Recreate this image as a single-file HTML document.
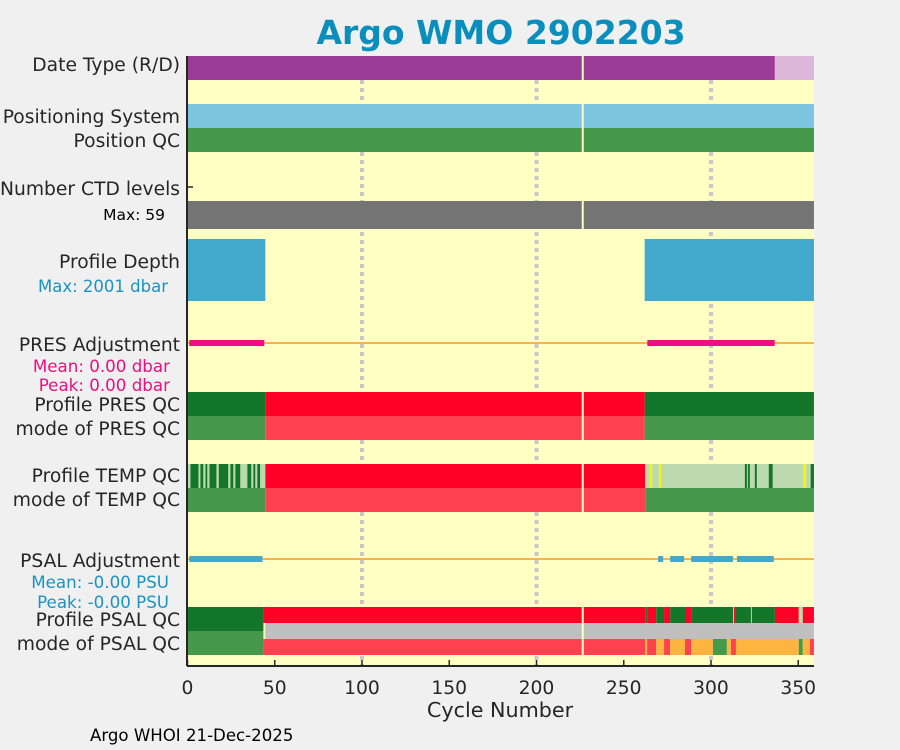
<!DOCTYPE html>
<html><head><meta charset="utf-8"><style>
body{margin:0;background:#f0f0f0;}
svg{display:block;font-family:"DejaVu Sans","Liberation Sans",sans-serif;}
</style></head><body>
<svg id="chart" width="900" height="750" viewBox="0 0 900 750">
<rect x="0" y="0" width="900" height="750" fill="#f0f0f0"/>
<text x="501" y="44" text-anchor="middle" font-size="33" font-weight="bold" fill="#0a8fbd">Argo WMO 2902203</text>
<rect x="187" y="56" width="627" height="610" fill="#ffffc4"/>
<g id="grid"></g>
<g id="marks"></g>
<g id="labels" font-size="18.7" fill="#262626" text-anchor="end">
<text x="180" y="71">Date Type (R/D)</text>
<text x="180" y="123">Positioning System</text>
<text x="180" y="147">Position QC</text>
<text x="180" y="195">Number CTD levels</text>
<text x="165" y="220" font-size="15.5" fill="#000">Max: 59</text>
<text x="180" y="268">Profile Depth</text>
<text x="168" y="292" font-size="16.5" fill="#1a93c4">Max: 2001 dbar</text>
<text x="180" y="351">PRES Adjustment</text>
<text x="170" y="372" font-size="16.7" fill="#e8117f">Mean: 0.00 dbar</text>
<text x="170" y="391" font-size="16.7" fill="#e8117f">Peak: 0.00 dbar</text>
<text x="180" y="411">Profile PRES QC</text>
<text x="180" y="435">mode of PRES QC</text>
<text x="180" y="482">Profile TEMP QC</text>
<text x="180" y="506">mode of TEMP QC</text>
<text x="180" y="567">PSAL Adjustment</text>
<text x="169" y="588" font-size="16.7" fill="#1a93c4">Mean: -0.00 PSU</text>
<text x="169" y="608" font-size="16.7" fill="#1a93c4">Peak: -0.00 PSU</text>
<text x="180" y="626">Profile PSAL QC</text>
<text x="180" y="650">mode of PSAL QC</text>
</g>
<line x1="187" y1="56" x2="187" y2="666" stroke="#262626" stroke-width="2"/>
<line x1="187" y1="666" x2="814" y2="666" stroke="#262626" stroke-width="2"/>
<line x1="187" y1="187" x2="193" y2="187" stroke="#262626" stroke-width="1.5"/>
<g id="xticks" font-size="18.7" fill="#262626" text-anchor="middle"></g>
<text x="500" y="717" text-anchor="middle" font-size="20.7" fill="#262626">Cycle Number</text>
<text x="90" y="741" font-size="16.6" fill="#000">Argo WHOI 21-Dec-2025</text>
</svg>
<script>
const xTicks=[0,50,100,150,200,250,300,350];
const gridCycles=[100,200,300];
const dateTypeSegs=[[0,336.6,'D'],[336.6,359,'R']];
const posSegs=[[0,359,1]];
const ctdSegs=[[0,359,59]];
const depthSegs=[[0,44.6,2001],[262,359,2001]];
const presAdjSegs=[[1,44],[263.5,336.5]];
const presQcSegs=[[0,44.6,'A'],[44.6,262,'F'],[262,359,'A']];
const presModeSegs=[[0,44.6,1],[44.6,262,4],[262,359,1]];
const tempQcSegs=[[0,1.7,'B'],[1.7,6.3,'A'],[6.3,7.4,'B'],[7.4,9.1,'A'],[9.1,10.3,'B'],[10.3,11.4,'A'],[11.4,12.6,'B'],[12.6,16.6,'A'],[16.6,17.9,'B'],[17.9,23.4,'A'],[23.4,24.6,'B'],[24.6,26.3,'A'],[26.3,27.4,'B'],[27.4,30.3,'A'],[30.3,34.3,'B'],[34.3,36.6,'A'],[36.6,37.7,'B'],[37.7,38.9,'A'],[38.9,40,'B'],[40,41.7,'A'],[41.7,44.6,'B'],[44.6,262.3,'F'],[262.3,264.6,'B'],[264.6,266.3,'C'],[266.3,270.3,'B'],[270.3,271.4,'C'],[271.4,319.4,'B'],[319.4,320.6,'A'],[320.6,321.1,'B'],[321.1,322.3,'A'],[322.3,325.1,'B'],[325.1,326.3,'A'],[326.3,333.1,'B'],[333.1,335.4,'A'],[335.4,353.1,'B'],[353.1,354.3,'C'],[354.3,357.1,'B'],[357.1,359,'A']];
const tempModeSegs=[[0,44.6,1],[44.6,262.3,4],[262.3,359,1]];
const psalAdjSegs=[[1,43],[269.7,272.6],[276.6,284.6],[288.6,312.6],[314.9,336]];
const psalQcSegs=[[0,43.5,'A'],[43.5,262.3,'F'],[262.3,263.4,'A'],[263.4,268.6,'F'],[268.6,273.1,'A'],[273.1,276.6,'F'],[276.6,285.1,'A'],[285.1,288.6,'F'],[288.6,312.6,'A'],[312.6,313.1,'C'],[313.1,314.3,'F'],[314.3,322.9,'A'],[322.9,323.4,'B'],[323.4,336.6,'A'],[336.6,350.3,'F'],[350.3,352.6,'B'],[352.6,359,'F']];
const psalGraySegs=[[44.6,359]];
const psalModeSegs=[[0,43.5,1],[43.5,262.3,4],[262.3,263.4,3],[263.4,268.6,4],[268.6,273.1,3],[273.1,276.6,4],[276.6,285.1,3],[285.1,288.6,4],[288.6,301.1,3],[301.1,309.1,1],[309.1,311.4,3],[311.4,312,1],[312,314.3,4],[314.3,350.3,3],[350.3,352.6,1],[352.6,356.6,3],[356.6,359,4]];
const breakCycle=[226.5];

const X0=187.5,XS=1.745;
function xs(c){return X0+c*XS;}
const NS='http://www.w3.org/2000/svg';
const marks=document.getElementById('marks');
const qcCol={A:'#13762b',B:'#bddaaf',C:'#f5f500',F:'#ff0026'};
const modeCol={1:'#46994a',3:'#fdb441',4:'#ff4150'};
function rect(g,x,y,w,h,fill){const r=document.createElementNS(NS,'rect');r.setAttribute('x',x);r.setAttribute('y',y);r.setAttribute('width',Math.max(w,0.8));r.setAttribute('height',h);r.setAttribute('fill',fill);g.appendChild(r);return r;}
function seg(segs,y,h,colFn,name){segs.forEach(s=>{const r=rect(marks,xs(s[0]),y,xs(s[1])-xs(s[0]),h,colFn(s));

});}
const grid=document.getElementById('grid');
gridCycles.forEach(c=>{const l=document.createElementNS(NS,'line');l.setAttribute('x1',xs(c));l.setAttribute('x2',xs(c));l.setAttribute('y1',56);l.setAttribute('y2',666);l.setAttribute('stroke','#c8c8c8');l.setAttribute('stroke-width',4);l.setAttribute('stroke-dasharray','4 4');


grid.appendChild(l);});
seg(dateTypeSegs,56,24,s=>s[2]=='D'?'#9a3c96':'#dcb7d9','date-type-bar');
seg(posSegs,104,24,s=>'#7ec5df','positioning-system-bar');
seg(posSegs,128,24,s=>'#46994a','position-qc-bar');
seg(ctdSegs,201,28,s=>'#747474','ctd-levels-bar');
seg(depthSegs,239,62,s=>'#42a9cd','profile-depth-bar');
[[343,'#fdb441'],[559,'#fdb441']].forEach((p,i)=>{const r=rect(marks,xs(0),p[0]-1,xs(359)-xs(0),2,p[1]);

});
seg(presAdjSegs,340,6,s=>'#ee0d82','pres-adjustment-bar');
seg(presQcSegs,392,24,s=>qcCol[s[2]],'profile-pres-qc-bar');
seg(presModeSegs,416,24,s=>modeCol[s[2]],'mode-pres-qc-bar');
seg(tempQcSegs,464,24,s=>qcCol[s[2]],'profile-temp-qc-bar');
seg(tempModeSegs,488,24,s=>modeCol[s[2]],'mode-temp-qc-bar');
seg(psalAdjSegs,556,6,s=>'#42a9cd','psal-adjustment-bar');
seg(psalQcSegs,607,16,s=>qcCol[s[2]],'profile-psal-qc-bar');
seg(psalGraySegs,623,16,s=>'#bfbfbf','psal-qc-gray-bar');
seg(psalQcSegs.slice(0,1),623,8,s=>qcCol[s[2]],'profile-psal-qc-bar');
seg(psalModeSegs.slice(0,1),631,8,s=>modeCol[s[2]],'mode-psal-qc-bar');
seg(psalModeSegs,639,16,s=>modeCol[s[2]],'mode-psal-qc-bar');
breakCycle.forEach(c=>{[[56,24],[104,48],[201,28],[392,48],[464,48],[607,48]].forEach(p=>{const r=rect(marks,xs(c)-1,p[0],2,p[1],'#ffffc4');

});});
const xt=document.getElementById('xticks');
xTicks.forEach(v=>{const l=document.createElementNS(NS,'line');l.setAttribute('x1',xs(v));l.setAttribute('x2',xs(v));l.setAttribute('y1',660);l.setAttribute('y2',666);l.setAttribute('stroke','#262626');l.setAttribute('stroke-width',1.5);


xt.appendChild(l);
const t=document.createElementNS(NS,'text');t.setAttribute('x',xs(v));t.setAttribute('y',694);t.textContent=v;


xt.appendChild(t);});
</script>
</body></html>
